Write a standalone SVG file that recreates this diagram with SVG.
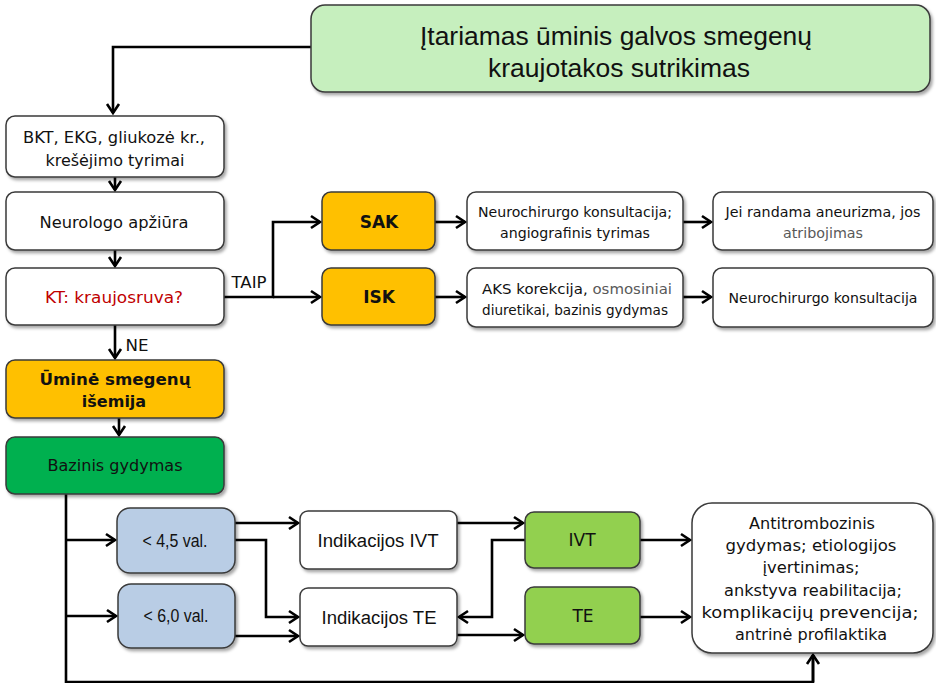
<svg xmlns="http://www.w3.org/2000/svg" width="936" height="683" viewBox="0 0 936 683">
<defs>
<filter id="sh" x="-10%" y="-10%" width="130%" height="140%">
<feDropShadow dx="2" dy="2.5" stdDeviation="1.5" flood-color="#000" flood-opacity="0.35"/>
</filter>
<marker id="ar" viewBox="-11 -8 13 16" refX="0" refY="0" markerWidth="13" markerHeight="16" markerUnits="userSpaceOnUse" orient="auto">
<path d="M-9,-6 L0,0 L-9,6" fill="none" stroke="#000" stroke-width="2.6"/>
</marker>
</defs>
<style>
.bx{stroke:#3a3a3a;stroke-width:1.5;filter:url(#sh)}
.w{fill:#fff}
.y{fill:#FFC000}
.g{fill:#00B050}
.lg{fill:#92D050}
.b{fill:#B9CDE5}
.t{fill:#C6EFBE}
.v{font-family:"DejaVu Sans",Verdana,sans-serif;fill:#111;text-anchor:middle}
.c{font-family:"Liberation Sans",Arial,sans-serif;fill:#111;text-anchor:middle}
.gr{fill:#595959}
.cn path{fill:none;stroke:#000;stroke-width:2.6;marker-end:url(#ar)}
.cn path.n{marker-end:none}
</style>
<g class="cn" id="connectors">
<path d="M311,47 H113 V113"/>
<path d="M115,177 V190"/>
<path d="M115,250 V266"/>
<path d="M224,297 H273 V222 H320"/>
<path d="M273,297 H320"/>
<path d="M435,222 H465"/>
<path d="M435,297 H465"/>
<path d="M683,222 H711"/>
<path d="M683,297 H711"/>
<path d="M115,325 V358"/>
<path d="M119,418 V435"/>
<path class="n" d="M66,494 V682 H813 V655"/>
<path d="M813,682 V655"/>
<path d="M66,540 H115"/>
<path d="M66,616 H116"/>
<path d="M235,523 H298"/>
<path d="M235,540 H266 V617 H298"/>
<path d="M235,636 H298"/>
<path d="M457,523 H523"/>
<path d="M525,540 H492 V617 H459"/>
<path d="M457,635 H523"/>
<path d="M640,540 H690"/>
<path d="M640,617 H690"/>
<text class="v" x="249" y="288" font-size="15.5" textLength="35" lengthAdjust="spacingAndGlyphs">TAIP</text>
<text class="v" x="137" y="351" font-size="15" textLength="23" lengthAdjust="spacingAndGlyphs">NE</text>
</g>
<g id="n-top">
<rect class="bx t" x="311" y="5" width="619" height="87" rx="14"/>
<text class="c" x="616" y="45" font-size="25" textLength="392" lengthAdjust="spacingAndGlyphs">Įtariamas ūminis galvos smegenų</text>
<text class="c" x="619" y="77" font-size="25" textLength="262" lengthAdjust="spacingAndGlyphs">kraujotakos sutrikimas</text>
</g>
<g id="n-bkt">
<rect class="bx w" x="6" y="116" width="218" height="61" rx="9"/>
<text class="v" x="114" y="143" font-size="16" textLength="182" lengthAdjust="spacingAndGlyphs">BKT, EKG, gliukozė kr.,</text>
<text class="v" x="115" y="166" font-size="16" textLength="139" lengthAdjust="spacingAndGlyphs">krešėjimo tyrimai</text>
</g>
<g id="n-neuro">
<rect class="bx w" x="6" y="192" width="218" height="58" rx="9"/>
<text class="v" x="114" y="228" font-size="16" textLength="149" lengthAdjust="spacingAndGlyphs">Neurologo apžiūra</text>
</g>
<g id="n-kt">
<rect class="bx w" x="6" y="268" width="218" height="57" rx="9"/>
<text class="v" x="114" y="303" font-size="16" textLength="138" lengthAdjust="spacingAndGlyphs" style="fill:#C00000">KT: kraujosruva?</text>
</g>
<g id="n-sak">
<rect class="bx y" x="322" y="192" width="113" height="58" rx="9"/>
<text class="v" x="379" y="228" font-size="17" font-weight="bold">SAK</text>
</g>
<g id="n-isk">
<rect class="bx y" x="322" y="268" width="113" height="57" rx="9"/>
<text class="v" x="379" y="303" font-size="17" font-weight="bold">ISK</text>
</g>
<g id="n-neurochir1">
<rect class="bx w" x="467" y="192" width="216" height="58" rx="9"/>
<text class="v" x="575" y="217" font-size="14" textLength="194" lengthAdjust="spacingAndGlyphs">Neurochirurgo konsultacija;</text>
<text class="v" x="575" y="238" font-size="14" textLength="150" lengthAdjust="spacingAndGlyphs">angiografinis tyrimas</text>
</g>
<g id="n-aneur">
<rect class="bx w" x="713" y="192" width="220" height="58" rx="9"/>
<text class="v" x="823" y="217" font-size="14" textLength="195" lengthAdjust="spacingAndGlyphs">Jei randama aneurizma, jos</text>
<text class="v gr" x="823" y="238" font-size="14" textLength="80" lengthAdjust="spacingAndGlyphs">atribojimas</text>
</g>
<g id="n-aks">
<rect class="bx w" x="467" y="268" width="216" height="59" rx="9"/>
<text class="v" x="577" y="294" font-size="14" textLength="190" lengthAdjust="spacingAndGlyphs">AKS korekcija, <tspan class="gr">osmosiniai</tspan></text>
<text class="v" x="575" y="315" font-size="14" textLength="186" lengthAdjust="spacingAndGlyphs">diuretikai, bazinis gydymas</text>
</g>
<g id="n-neurochir2">
<rect class="bx w" x="713" y="268" width="220" height="59" rx="9"/>
<text class="v" x="823" y="303" font-size="14" textLength="189" lengthAdjust="spacingAndGlyphs">Neurochirurgo konsultacija</text>
</g>
<g id="n-umine">
<rect class="bx y" x="6" y="360" width="218" height="58" rx="9"/>
<text class="v" x="115" y="385" font-size="16" font-weight="bold" textLength="151" lengthAdjust="spacingAndGlyphs">Ūminė smegenų</text>
<text class="v" x="114" y="407" font-size="16" font-weight="bold">išemija</text>
</g>
<g id="n-bazinis">
<rect class="bx g" x="6" y="437" width="218" height="57" rx="9"/>
<text class="v" x="115" y="471" font-size="16" textLength="135" lengthAdjust="spacingAndGlyphs">Bazinis gydymas</text>
</g>
<g id="n-45">
<rect class="bx b" x="117" y="508" width="118" height="65" rx="13"/>
<text class="c" x="175" y="547" font-size="17.5" textLength="65" lengthAdjust="spacingAndGlyphs">&lt; 4,5 val.</text>
</g>
<g id="n-60">
<rect class="bx b" x="118" y="584" width="117" height="64" rx="13"/>
<text class="c" x="176" y="622" font-size="17.5" textLength="65" lengthAdjust="spacingAndGlyphs">&lt; 6,0 val.</text>
</g>
<g id="n-indivt">
<rect class="bx w" x="300" y="511" width="157" height="58" rx="8"/>
<text class="c" x="378" y="547" font-size="18" textLength="121" lengthAdjust="spacingAndGlyphs">Indikacijos IVT</text>
</g>
<g id="n-indte">
<rect class="bx w" x="300" y="588" width="157" height="58" rx="8"/>
<text class="c" x="379" y="624" font-size="18" textLength="115" lengthAdjust="spacingAndGlyphs">Indikacijos TE</text>
</g>
<g id="n-ivt">
<rect class="bx lg" x="525" y="512" width="115" height="56" rx="9"/>
<text class="v" x="582" y="546" font-size="17">IVT</text>
</g>
<g id="n-te">
<rect class="bx lg" x="525" y="587" width="115" height="57" rx="9"/>
<text class="v" x="583" y="622" font-size="17">TE</text>
</g>
<g id="n-anti">
<rect class="bx w" x="692" y="503" width="241" height="150" rx="20"/>
<text class="v" x="812" y="529" font-size="16.5" textLength="126" lengthAdjust="spacingAndGlyphs">Antitrombozinis</text>
<text class="v" x="811" y="551" font-size="16.5" textLength="171" lengthAdjust="spacingAndGlyphs">gydymas; etiologijos</text>
<text class="v" x="811" y="573" font-size="16.5" textLength="97" lengthAdjust="spacingAndGlyphs">įvertinimas;</text>
<text class="v" x="813" y="596" font-size="16.5" textLength="178" lengthAdjust="spacingAndGlyphs">ankstyva reabilitacija;</text>
<text class="v" x="810" y="618" font-size="16.5" textLength="217" lengthAdjust="spacingAndGlyphs">komplikacijų prevencija;</text>
<text class="v" x="811" y="640" font-size="16.5" textLength="152" lengthAdjust="spacingAndGlyphs">antrinė profilaktika</text>
</g>
</svg>
